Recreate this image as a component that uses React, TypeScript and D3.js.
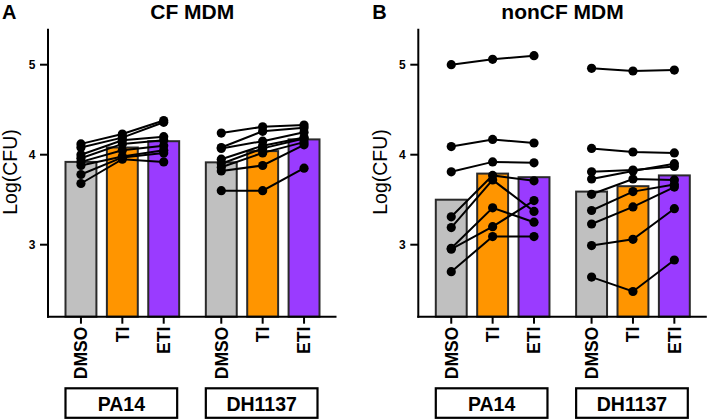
import React from "react";
import * as d3 from "d3";

const treatments = ["DMSO", "TI", "ETI"];
const strains = ["PA14", "DH1137"];
const yTicks = [3, 4, 5];
const treatmentColors = ["#c0c0c0", "#ff9500", "#9a3bff"];

// Panel A: CF MDM
const cfPA14_DMSO = [4.12, 4.08, 4.0, 3.96, 3.92, 3.88, 3.78, 3.68];
const cfPA14_TI = [4.23, 4.19, 4.16, 4.12, 4.05, 3.98, 3.97, 3.95];
const cfPA14_ETI = [4.38, 4.36, 4.2, 4.16, 4.1, 4.05, 4.02, 3.92];
const cfPA14_bars = [3.92, 4.08, 4.15];

const cfDH_DMSO = [4.24, 4.08, 4.07, 3.95, 3.9, 3.86, 3.82, 3.6];
const cfDH_TI = [4.31, 4.26, 4.15, 4.1, 4.07, 4.02, 3.88, 3.6];
const cfDH_ETI = [4.33, 4.3, 4.25, 4.19, 4.18, 4.14, 4.11, 3.85];
const cfDH_bars = [3.915, 4.04, 4.17];

// Panel B: nonCF MDM
const ncPA14_DMSO = [5.0, 4.09, 3.81, 3.31, 3.19, 2.96, 2.95, 2.7];
const ncPA14_TI = [5.06, 4.17, 3.92, 3.77, 3.72, 3.41, 3.2, 3.09];
const ncPA14_ETI = [5.1, 4.13, 3.91, 3.71, 3.37, 3.25, 3.49, 3.09];
const ncPA14_bars = [3.5, 3.79, 3.75];

const ncDH_DMSO = [4.96, 4.07, 3.81, 3.73, 3.56, 3.38, 3.23, 2.99, 2.64];
const ncDH_TI = [4.93, 4.03, 3.83, 3.82, 3.73, 3.59, 3.42, 3.06, 2.48];
const ncDH_ETI = [4.94, 4.02, 3.87, 3.9, 3.72, 3.67, 3.64, 3.4, 2.83];
const ncDH_bars = [3.59, 3.65, 3.77];

const FONT = "'Liberation Sans', Arial, Helvetica, sans-serif";

type GroupData = { strain: string; series: number[][]; bars: number[] };

function Panel({ ox, letter, title, groups }: { ox: number; letter: string; title: string; groups: GroupData[] }) {
  const axisX = ox + 48;
  const axisEnd = ox + 336.5;
  const y = d3.scaleLinear().domain([2.2, 5.4]).range([316.7, 28.7]);
  const xOuter = d3.scaleBand<string>().domain(strains).range([axisX + 17.5, axisEnd - 17]).paddingInner(0.19).paddingOuter(0);
  const xInner = d3.scaleBand<string>().domain(treatments).range([0, xOuter.bandwidth()]).paddingInner(0.253).paddingOuter(0);
  const bw = xInner.bandwidth();
  const cx = (s: string, t: string) => (xOuter(s) as number) + (xInner(t) as number) + bw / 2;
  const line = d3.line<[number, number]>().x((d) => d[0]).y((d) => d[1]);
  const base = y(2.2);
  const center = (axisX + axisEnd) / 2;

  return (
    <g>
      <text x={ox + 2} y={18.5} fontFamily={FONT} fontWeight="bold" fontSize={20}>{letter}</text>
      <text x={center} y={18.5} textAnchor="middle" fontFamily={FONT} fontWeight="bold" fontSize={21}>{title}</text>
      <text transform={`translate(${ox + 16.5},${172}) rotate(-90)`} textAnchor="middle" fontFamily={FONT} fontSize={19.5}>Log(CFU)</text>

      {/* bars */}
      {groups.map((g) =>
        treatments.map((t, i) => (
          <rect key={g.strain + t} x={cx(g.strain, t) - bw / 2} y={y(g.bars[i])} width={bw} height={base - y(g.bars[i])}
            fill={treatmentColors[i]} stroke="#2a2a2a" strokeWidth={2} />
        ))
      )}

      {/* paired lines */}
      {groups.map((g) =>
        g.series[0].map((_, k) => (
          <path key={g.strain + "l" + k}
            d={line(treatments.map((t, i) => [cx(g.strain, t), y(g.series[i][k])]) as [number, number][]) || ""}
            fill="none" stroke="#000" strokeWidth={2} />
        ))
      )}
      {/* points */}
      {groups.map((g) =>
        treatments.map((t, i) =>
          g.series[i].map((v, k) => (
            <circle key={g.strain + t + k} cx={cx(g.strain, t)} cy={y(v)} r={4.6} fill="#000" />
          ))
        )
      )}

      {/* y axis */}
      <line x1={axisX} x2={axisX} y1={y(5.4)} y2={base + 1} stroke="#000" strokeWidth={2} />
      {yTicks.map((v) => (
        <g key={v}>
          <line x1={axisX - 8} x2={axisX} y1={y(v)} y2={y(v)} stroke="#000" strokeWidth={2} />
          <text x={axisX - 12.5} y={y(v)} dy="0.36em" textAnchor="end" fontFamily={FONT} fontWeight="bold" fontSize={12}>{v}</text>
        </g>
      ))}

      {/* x axis */}
      <line x1={axisX - 1} x2={axisEnd} y1={base} y2={base} stroke="#000" strokeWidth={2} />
      {groups.map((g) =>
        treatments.map((t) => (
          <g key={g.strain + t + "tick"}>
            <line x1={cx(g.strain, t)} x2={cx(g.strain, t)} y1={base} y2={base + 7} stroke="#000" strokeWidth={2} />
            <text transform={`translate(${cx(g.strain, t)},${base + 10}) rotate(-90)`} dy="0.36em" textAnchor="end"
              fontFamily={FONT} fontWeight="bold" fontSize={17.5}>{t}</text>
          </g>
        ))
      )}

      {/* strain boxes */}
      {groups.map((g) => (
        <g key={g.strain + "box"}>
          <rect x={xOuter(g.strain) as number} y={388.3} width={xOuter.bandwidth() - 2} height={29.5} fill="#fff" stroke="#000" strokeWidth={2.2} />
          <text x={(xOuter(g.strain) as number) + (xOuter.bandwidth() - 2) / 2} y={404} dy="0.36em" textAnchor="middle"
            fontFamily={FONT} fontWeight="bold" fontSize={19.5}>{g.strain}</text>
        </g>
      ))}
    </g>
  );
}

export default function App() {
  const cfGroups: GroupData[] = [
    { strain: "PA14", series: [cfPA14_DMSO, cfPA14_TI, cfPA14_ETI], bars: cfPA14_bars },
    { strain: "DH1137", series: [cfDH_DMSO, cfDH_TI, cfDH_ETI], bars: cfDH_bars },
  ];
  const ncGroups: GroupData[] = [
    { strain: "PA14", series: [ncPA14_DMSO, ncPA14_TI, ncPA14_ETI], bars: ncPA14_bars },
    { strain: "DH1137", series: [ncDH_DMSO, ncDH_TI, ncDH_ETI], bars: ncDH_bars },
  ];
  return (
    <svg width={708} height={420} style={{ position: "absolute", left: 0, top: 0, display: "block", background: "#fff" }}>
      <rect width={708} height={420} fill="#fff" />
      <Panel ox={0} letter="A" title="CF MDM" groups={cfGroups} />
      <Panel ox={370.3} letter="B" title="nonCF MDM" groups={ncGroups} />
    </svg>
  );
}
